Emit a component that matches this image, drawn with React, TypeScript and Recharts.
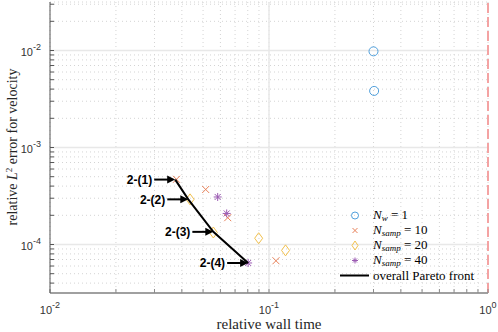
import React from "react";
import {
  ScatterChart,
  Scatter,
  XAxis,
  YAxis,
  CartesianGrid,
  ReferenceLine,
  ReferenceDot,
} from "recharts";

// values (log-log)
const nw1X = [0.3, 0.302];
const nw1Y = [9.8e-3, 3.83e-3];
const samp10X = [0.0378, 0.0514, 0.0648, 0.1076];
const samp10Y = [4.7e-4, 3.69e-4, 1.89e-4, 6.8e-5];
const samp20X = [0.0436, 0.0557, 0.0897, 0.119];
const samp20Y = [2.92e-4, 1.33e-4, 1.16e-4, 8.7e-5];
const samp40X = [0.0583, 0.0641, 0.0803];
const samp40Y = [3.09e-4, 2.09e-4, 6.45e-5];
const paretoX = [0.0373, 0.0428, 0.0557, 0.0803];
const paretoY = [4.67e-4, 2.92e-4, 1.35e-4, 6.45e-5];
const paretoLabels = ["2-(1)", "2-(2)", "2-(3)", "2-(4)"];

const xTicks = [
  0.01, 0.02, 0.03, 0.04, 0.05, 0.06, 0.07, 0.08, 0.09,
  0.1, 0.2, 0.3, 0.4, 0.5, 0.6, 0.7, 0.8, 0.9, 1,
];
const yTicks = [
  4e-5, 5e-5, 6e-5, 7e-5, 8e-5, 9e-5,
  1e-4, 2e-4, 3e-4, 4e-4, 5e-4, 6e-4, 7e-4, 8e-4, 9e-4,
  1e-3, 2e-3, 3e-3, 4e-3, 5e-3, 6e-3, 7e-3, 8e-3, 9e-3,
  1e-2, 2e-2, 3e-2,
];
const xMajor = [0.1];
const yMajor = [1e-4, 1e-3, 1e-2];

const zip = (xs: number[], ys: number[]) => xs.map((x, i) => ({ x, y: ys[i] }));

const BLUE = "#4f9fdc";
const ORANGE = "#e8825a";
const YELLOW = "#f2c14e";
const PURPLE = "#9c5cb3";
const SANS = "'Liberation Sans', Arial, sans-serif";
const SERIF = "'Liberation Serif', 'Times New Roman', serif";

function isDecade(v: number) {
  const l = Math.log10(v);
  return Math.abs(l - Math.round(l)) < 1e-9;
}

function XTick({ x, y, payload }: any) {
  const v = payload.value;
  if (!isDecade(v)) return <g />;
  return (
    <text x={x} y={y + 17} textAnchor="middle" fontFamily={SANS} fontSize={11} fill="#333">
      10
      <tspan dy={-6} fontSize={9}>
        {Math.round(Math.log10(v))}
      </tspan>
    </text>
  );
}

function YTick({ x, y, payload }: any) {
  const v = payload.value;
  if (!isDecade(v)) return <g />;
  return (
    <text x={x - 5} y={y + 5} textAnchor="end" fontFamily={SANS} fontSize={11} fill="#333">
      10
      <tspan dy={-6} fontSize={9}>
        {Math.round(Math.log10(v))}
      </tspan>
    </text>
  );
}

const circleShape = ({ cx, cy }: any) => (
  <circle cx={cx} cy={cy} r={4.5} fill="none" stroke={BLUE} strokeWidth={1} />
);
const crossShape = ({ cx, cy }: any) => (
  <path
    d={`M${cx - 3.5},${cy - 3.5}L${cx + 3.5},${cy + 3.5}M${cx - 3.5},${cy + 3.5}L${cx + 3.5},${cy - 3.5}`}
    stroke={ORANGE}
    strokeWidth={1}
    fill="none"
  />
);
const diamondShape = ({ cx, cy }: any) => (
  <path
    d={`M${cx},${cy - 5.5}L${cx + 4},${cy}L${cx},${cy + 5.5}L${cx - 4},${cy}Z`}
    stroke={YELLOW}
    strokeWidth={1}
    fill="none"
  />
);
const starShape = ({ cx, cy }: any) => (
  <path
    d={`M${cx - 4},${cy}L${cx + 4},${cy}M${cx},${cy - 4}L${cx},${cy + 4}M${cx - 3},${cy - 3}L${cx + 3},${cy + 3}M${cx - 3},${cy + 3}L${cx + 3},${cy - 3}`}
    stroke={PURPLE}
    strokeWidth={1}
    fill="none"
  />
);

function arrowLabel(text: string) {
  return ({ cx, cy }: any) => (
    <g>
      <line x1={cx - 21} y1={cy} x2={cx - 7} y2={cy} stroke="#000" strokeWidth={2} />
      <path d={`M${cx},${cy}L${cx - 8},${cy - 4}L${cx - 8},${cy + 4}Z`} fill="#000" />
      <text
        x={cx - 23}
        y={cy + 4.5}
        textAnchor="end"
        fontFamily={SANS}
        fontWeight="bold"
        fontSize={12}
        fill="#000"
      >
        {text}
      </text>
    </g>
  );
}

function LegendRow({ icon, children }: { icon: React.ReactNode; children: React.ReactNode }) {
  return (
    <div style={{ display: "flex", alignItems: "center", height: 15 }}>
      <svg width={30} height={15} style={{ flex: "none" }}>
        {icon}
      </svg>
      <span style={{ marginLeft: 3, whiteSpace: "nowrap", lineHeight: "13px" }}>{children}</span>
    </div>
  );
}

function Sub({ children }: { children: React.ReactNode }) {
  return (
    <span style={{ fontSize: 9, fontStyle: "italic", position: "relative", top: 2 }}>
      {children}
    </span>
  );
}

export default function App() {
  return (
    <div style={{ position: "absolute", left: 0, top: 0, width: 498, height: 332, background: "#fff" }}>
      <ScatterChart width={498} height={332} margin={{ top: 2, right: 10, bottom: 0, left: 0 }}>
        <CartesianGrid stroke="#d4d4d4" strokeDasharray="1 3" />
        {xMajor.map((v) => (
          <ReferenceLine key={`xm${v}`} x={v} stroke="#e8e8e8" strokeWidth={1.5} />
        ))}
        {yMajor.map((v) => (
          <ReferenceLine key={`ym${v}`} y={v} stroke="#e8e8e8" strokeWidth={1.5} />
        ))}
        <XAxis
          dataKey="x"
          type="number"
          scale="log"
          domain={[0.01, 1]}
          allowDataOverflow
          ticks={xTicks}
          interval={0}
          height={39}
          stroke="#8a8a8a"
          axisLine={{ stroke: "#a0a0a0", strokeWidth: 2 }}
          tickSize={-4}
          tickMargin={8}
          tick={<XTick />}
          label={{
            content: ({ viewBox }: any) => (
              <text
                x={viewBox.x + viewBox.width / 2}
                y={329}
                textAnchor="middle"
                fontFamily={SERIF}
                fontSize={15}
                fill="#262626"
              >
                relative wall time
              </text>
            ),
          }}
        />
        <YAxis
          dataKey="y"
          type="number"
          scale="log"
          domain={[Math.pow(10, -4.5), Math.pow(10, -1.5)]}
          allowDataOverflow
          ticks={yTicks}
          interval={0}
          width={50}
          stroke="#555"
          tickSize={-4}
          tickMargin={8}
          tick={<YTick />}
          label={{
            content: () => (
              <text
                x={17}
                y={147}
                transform="rotate(-90 17 147)"
                textAnchor="middle"
                fontFamily={SERIF}
                fontSize={14}
                fill="#262626"
              >
                relative <tspan fontStyle="italic">L</tspan>
                <tspan dy={-5} fontSize={9}>2</tspan>
                <tspan dy={5}> error for velocity</tspan>
              </text>
            ),
          }}
        />
        <ReferenceLine x={1} stroke="#f4a3a3" strokeWidth={2} strokeDasharray="10 4" />
        <Scatter data={zip(nw1X, nw1Y)} shape={circleShape} isAnimationActive={false} />
        <Scatter data={zip(samp10X, samp10Y)} shape={crossShape} isAnimationActive={false} />
        <Scatter data={zip(samp20X, samp20Y)} shape={diamondShape} isAnimationActive={false} />
        <Scatter data={zip(samp40X, samp40Y)} shape={starShape} isAnimationActive={false} />
        <Scatter
          data={zip(paretoX, paretoY)}
          line={{ stroke: "#000", strokeWidth: 2 }}
          shape={() => <g />}
          isAnimationActive={false}
        />
        {paretoX.map((x, i) => (
          <ReferenceDot key={paretoLabels[i]} x={x} y={paretoY[i]} shape={arrowLabel(paretoLabels[i])} />
        ))}
      </ScatterChart>
      <div
        style={{
          position: "absolute",
          left: 340,
          top: 208,
          fontFamily: SERIF,
          fontSize: 13,
          color: "#000",
          lineHeight: "15px",
        }}
      >
        <LegendRow icon={<circle cx={15} cy={7.5} r={3.5} fill="none" stroke={BLUE} />}>
          <i>N</i>
          <Sub>w</Sub> = 1
        </LegendRow>
        <LegendRow
          icon={<path d="M12.5,5L17.5,10M12.5,10L17.5,5" stroke={ORANGE} fill="none" />}
        >
          <i>N</i>
          <Sub>samp</Sub> = 10
        </LegendRow>
        <LegendRow icon={<path d="M15,3L18,7.5L15,12L12,7.5Z" stroke={YELLOW} fill="none" />}>
          <i>N</i>
          <Sub>samp</Sub> = 20
        </LegendRow>
        <LegendRow
          icon={
            <path
              d="M12,7.5L18,7.5M15,4.5L15,10.5M13,5.5L17,9.5M13,9.5L17,5.5"
              stroke={PURPLE}
              fill="none"
            />
          }
        >
          <i>N</i>
          <Sub>samp</Sub> = 40
        </LegendRow>
        <LegendRow icon={<line x1={0} y1={7.5} x2={29} y2={7.5} stroke="#000" strokeWidth={2} />}>
          overall Pareto front
        </LegendRow>
      </div>
    </div>
  );
}
